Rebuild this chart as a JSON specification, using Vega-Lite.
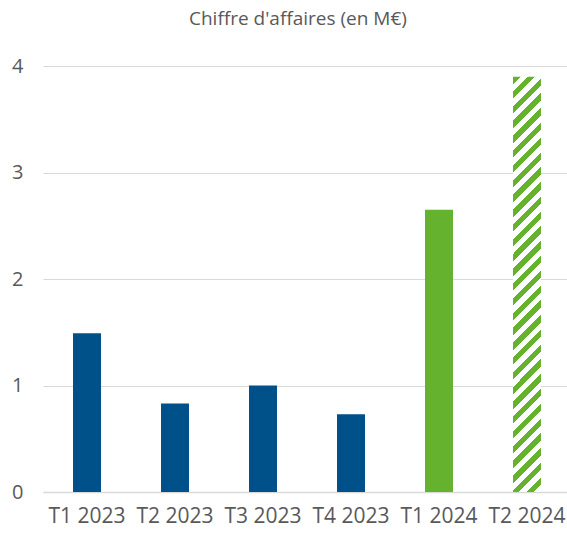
{
  "$schema": "https://vega.github.io/schema/vega-lite/v6.json",
  "width": 528,
  "height": 426,
  "autosize": {"type": "none"},
  "padding": {"left": 43, "right": 0, "top": 66, "bottom": 41},
  "background": "#ffffff",
  "title": {
    "text": "Chiffre d'affaires (en M€)",
    "anchor": "start",
    "dx": 146,
    "frame": "group",
    "font": "Open Sans",
    "fontSize": 19,
    "fontWeight": "normal",
    "color": "#595959",
    "offset": 27
  },
  "config": {"view": {"stroke": null}},
  "data": {
    "values": [
      {"trimestre": "T1 2023", "annee": "2023", "statut": "réel", "ca": 1.49},
      {"trimestre": "T2 2023", "annee": "2023", "statut": "réel", "ca": 0.83},
      {"trimestre": "T3 2023", "annee": "2023", "statut": "réel", "ca": 1.0},
      {"trimestre": "T4 2023", "annee": "2023", "statut": "réel", "ca": 0.73},
      {"trimestre": "T1 2024", "annee": "2024", "statut": "réel", "ca": 2.65},
      {"trimestre": "T2 2024", "annee": "2024", "statut": "prévision", "ca": 3.9}
    ]
  },
  "encoding": {
    "x": {
      "field": "trimestre",
      "type": "nominal",
      "sort": null,
      "scale": {"paddingInner": 0.682, "paddingOuter": 0.341},
      "axis": {
        "title": null,
        "labelAngle": 0,
        "labelFont": "Open Sans",
        "labelFontSize": 21,
        "labelColor": "#595959",
        "labelPadding": 13,
        "ticks": false,
        "domainColor": "#d9d9d9",
        "domainWidth": 1.5,
        "grid": false
      }
    },
    "y": {
      "field": "ca",
      "type": "quantitative",
      "scale": {"domain": [0, 4], "nice": false},
      "axis": {
        "title": null,
        "values": [0, 1, 2, 3, 4],
        "labelFont": "Open Sans",
        "labelFontSize": 20,
        "labelColor": "#595959",
        "labelPadding": 20,
        "ticks": false,
        "domain": false,
        "gridColor": "#d9d9d9",
        "gridWidth": 1
      }
    }
  },
  "layer": [
    {
      "transform": [{"filter": "datum.statut === 'réel'"}],
      "mark": {"type": "bar"},
      "encoding": {
        "color": {
          "field": "annee",
          "type": "nominal",
          "scale": {"domain": ["2023", "2024"], "range": ["#00508A", "#65B22E"]},
          "legend": null
        }
      }
    },
    {
      "transform": [{"filter": "datum.statut === 'prévision'"}],
      "mark": {
        "type": "bar",
        "color": {
          "gradient": "linear",
          "x1": 0, "y1": 0, "x2": 0.0717, "y2": 1.0626,
          "stops": [
            {"offset": 0, "color": "#65B22E"}, {"offset": 0.0167, "color": "#65B22E"}, {"offset": 0.0167, "color": "#ffffff"}, {"offset": 0.0333, "color": "#ffffff"},
            {"offset": 0.0333, "color": "#65B22E"}, {"offset": 0.05, "color": "#65B22E"}, {"offset": 0.05, "color": "#ffffff"}, {"offset": 0.0667, "color": "#ffffff"},
            {"offset": 0.0667, "color": "#65B22E"}, {"offset": 0.0833, "color": "#65B22E"}, {"offset": 0.0833, "color": "#ffffff"}, {"offset": 0.1, "color": "#ffffff"},
            {"offset": 0.1, "color": "#65B22E"}, {"offset": 0.1167, "color": "#65B22E"}, {"offset": 0.1167, "color": "#ffffff"}, {"offset": 0.1333, "color": "#ffffff"},
            {"offset": 0.1333, "color": "#65B22E"}, {"offset": 0.15, "color": "#65B22E"}, {"offset": 0.15, "color": "#ffffff"}, {"offset": 0.1667, "color": "#ffffff"},
            {"offset": 0.1667, "color": "#65B22E"}, {"offset": 0.1833, "color": "#65B22E"}, {"offset": 0.1833, "color": "#ffffff"}, {"offset": 0.2, "color": "#ffffff"},
            {"offset": 0.2, "color": "#65B22E"}, {"offset": 0.2167, "color": "#65B22E"}, {"offset": 0.2167, "color": "#ffffff"}, {"offset": 0.2333, "color": "#ffffff"},
            {"offset": 0.2333, "color": "#65B22E"}, {"offset": 0.25, "color": "#65B22E"}, {"offset": 0.25, "color": "#ffffff"}, {"offset": 0.2667, "color": "#ffffff"},
            {"offset": 0.2667, "color": "#65B22E"}, {"offset": 0.2833, "color": "#65B22E"}, {"offset": 0.2833, "color": "#ffffff"}, {"offset": 0.3, "color": "#ffffff"},
            {"offset": 0.3, "color": "#65B22E"}, {"offset": 0.3167, "color": "#65B22E"}, {"offset": 0.3167, "color": "#ffffff"}, {"offset": 0.3333, "color": "#ffffff"},
            {"offset": 0.3333, "color": "#65B22E"}, {"offset": 0.35, "color": "#65B22E"}, {"offset": 0.35, "color": "#ffffff"}, {"offset": 0.3667, "color": "#ffffff"},
            {"offset": 0.3667, "color": "#65B22E"}, {"offset": 0.3833, "color": "#65B22E"}, {"offset": 0.3833, "color": "#ffffff"}, {"offset": 0.4, "color": "#ffffff"},
            {"offset": 0.4, "color": "#65B22E"}, {"offset": 0.4167, "color": "#65B22E"}, {"offset": 0.4167, "color": "#ffffff"}, {"offset": 0.4333, "color": "#ffffff"},
            {"offset": 0.4333, "color": "#65B22E"}, {"offset": 0.45, "color": "#65B22E"}, {"offset": 0.45, "color": "#ffffff"}, {"offset": 0.4667, "color": "#ffffff"},
            {"offset": 0.4667, "color": "#65B22E"}, {"offset": 0.4833, "color": "#65B22E"}, {"offset": 0.4833, "color": "#ffffff"}, {"offset": 0.5, "color": "#ffffff"},
            {"offset": 0.5, "color": "#65B22E"}, {"offset": 0.5167, "color": "#65B22E"}, {"offset": 0.5167, "color": "#ffffff"}, {"offset": 0.5333, "color": "#ffffff"},
            {"offset": 0.5333, "color": "#65B22E"}, {"offset": 0.55, "color": "#65B22E"}, {"offset": 0.55, "color": "#ffffff"}, {"offset": 0.5667, "color": "#ffffff"},
            {"offset": 0.5667, "color": "#65B22E"}, {"offset": 0.5833, "color": "#65B22E"}, {"offset": 0.5833, "color": "#ffffff"}, {"offset": 0.6, "color": "#ffffff"},
            {"offset": 0.6, "color": "#65B22E"}, {"offset": 0.6167, "color": "#65B22E"}, {"offset": 0.6167, "color": "#ffffff"}, {"offset": 0.6333, "color": "#ffffff"},
            {"offset": 0.6333, "color": "#65B22E"}, {"offset": 0.65, "color": "#65B22E"}, {"offset": 0.65, "color": "#ffffff"}, {"offset": 0.6667, "color": "#ffffff"},
            {"offset": 0.6667, "color": "#65B22E"}, {"offset": 0.6833, "color": "#65B22E"}, {"offset": 0.6833, "color": "#ffffff"}, {"offset": 0.7, "color": "#ffffff"},
            {"offset": 0.7, "color": "#65B22E"}, {"offset": 0.7167, "color": "#65B22E"}, {"offset": 0.7167, "color": "#ffffff"}, {"offset": 0.7333, "color": "#ffffff"},
            {"offset": 0.7333, "color": "#65B22E"}, {"offset": 0.75, "color": "#65B22E"}, {"offset": 0.75, "color": "#ffffff"}, {"offset": 0.7667, "color": "#ffffff"},
            {"offset": 0.7667, "color": "#65B22E"}, {"offset": 0.7833, "color": "#65B22E"}, {"offset": 0.7833, "color": "#ffffff"}, {"offset": 0.8, "color": "#ffffff"},
            {"offset": 0.8, "color": "#65B22E"}, {"offset": 0.8167, "color": "#65B22E"}, {"offset": 0.8167, "color": "#ffffff"}, {"offset": 0.8333, "color": "#ffffff"},
            {"offset": 0.8333, "color": "#65B22E"}, {"offset": 0.85, "color": "#65B22E"}, {"offset": 0.85, "color": "#ffffff"}, {"offset": 0.8667, "color": "#ffffff"},
            {"offset": 0.8667, "color": "#65B22E"}, {"offset": 0.8833, "color": "#65B22E"}, {"offset": 0.8833, "color": "#ffffff"}, {"offset": 0.9, "color": "#ffffff"},
            {"offset": 0.9, "color": "#65B22E"}, {"offset": 0.9167, "color": "#65B22E"}, {"offset": 0.9167, "color": "#ffffff"}, {"offset": 0.9333, "color": "#ffffff"},
            {"offset": 0.9333, "color": "#65B22E"}, {"offset": 0.95, "color": "#65B22E"}, {"offset": 0.95, "color": "#ffffff"}, {"offset": 0.9667, "color": "#ffffff"},
            {"offset": 0.9667, "color": "#65B22E"}, {"offset": 0.9833, "color": "#65B22E"}, {"offset": 0.9833, "color": "#ffffff"}, {"offset": 1, "color": "#ffffff"}
          ]
        }
      }
    }
  ]
}
